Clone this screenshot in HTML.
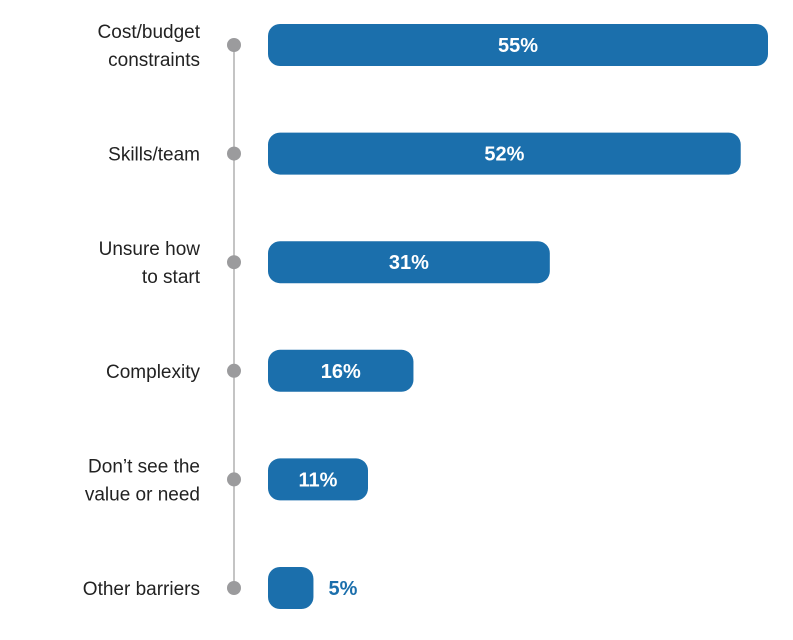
<!DOCTYPE html>
<html><head><meta charset="utf-8"><style>
html,body{margin:0;padding:0;background:#fff;width:793px;height:640px;overflow:hidden}
svg{display:block}
text{font-family:"Liberation Sans",sans-serif}
</style></head><body>
<svg id="chart" width="793" height="640"></svg>
<script>
const categories=[["Cost/budget","constraints"],["Skills/team"],["Unsure how","to start"],["Complexity"],["Don\u2019t see the","value or need"],["Other barriers"]];
const values=[55,52,31,16,11,5];
const valueLabels=["55%","52%","31%","16%","11%","5%"];
const svg=document.getElementById('chart');
const NS='http://www.w3.org/2000/svg';
const x0=268, pxPer=500/55, y0=45, step=108.6, barH=42;
const xScale=v=>v*pxPer;
const yScale=i=>y0+i*step;
function mk(tag,attrs){const e=document.createElementNS(NS,tag);for(const k in attrs)e.setAttribute(k,attrs[k]);svg.appendChild(e);return e;}
const line=mk('line',{x1:234,x2:234,y1:yScale(0),y2:yScale(values.length-1),stroke:'#c4c4c4','stroke-width':2});


values.forEach((v,i)=>{
  const cy=yScale(i);
  const dot=mk('circle',{cx:234,cy:cy,r:7,fill:'#9b9b9d'});
  
  
  const lab=mk('text',{x:200,'text-anchor':'end','font-size':19,fill:'#222'});
  
  
  const lines=categories[i];
  lines.forEach((t,j)=>{const ts=document.createElementNS(NS,'tspan');ts.setAttribute('x',200);ts.setAttribute('y',cy+7+(j-(lines.length-1)/2)*28);ts.textContent=t;lab.appendChild(ts);});
  const w=xScale(v);
  const bar=mk('rect',{x:x0,y:cy-barH/2,width:w,height:barH,rx:12,ry:12,fill:'#1b6fac'});
  
  
  const inside=w>70;
  const vt=mk('text',{x:inside?x0+w/2:x0+w+15,y:cy+7,'text-anchor':inside?'middle':'start','font-size':20,'font-weight':'bold',fill:inside?'#fff':'#1b6fac'});
  
  
  vt.textContent=valueLabels[i];
});
</script>
</body></html>
